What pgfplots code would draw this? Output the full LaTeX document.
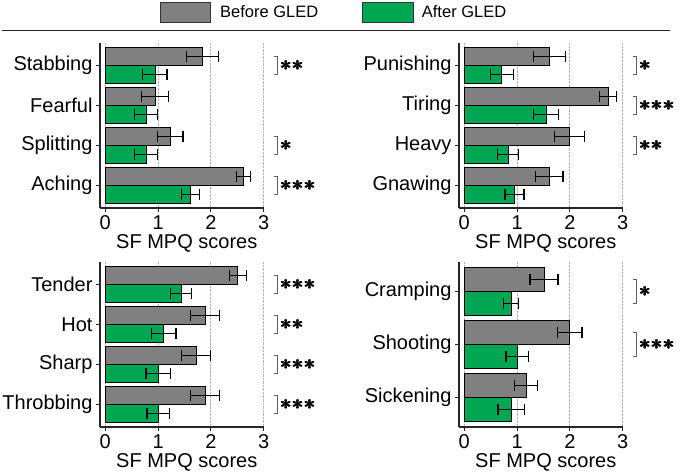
\documentclass[border=0pt]{standalone}
\usepackage{pgfplots}
\pgfplotsset{compat=1.18}
\usepackage{amsmath}
\usepackage{fontspec}
\setmainfont{Liberation Sans}
\definecolor{barGray}{RGB}{128,128,128}
\definecolor{barGreen}{RGB}{0,166,81}
\definecolor{brk}{RGB}{95,95,95}
\newcommand{\fs}[1]{\fontsize{#1}{#1}\selectfont}
\newcommand{\st}{{\pmb{\boldsymbol{\ast}}}}
\pgfplotsset{
 panel/.style={
  scale only axis, width=163.7bp, height=165bp,
  xmin=-0.1, xmax=3, xtick={0,1,2,3},
  axis x line*=bottom, axis y line*=left,
  axis line style={line width=1.2bp, black!85, -},
  tick align=outside, major tick length=4bp,
  tick style={line width=1bp, black!85},
  xbar, bar width=0.46,
  tick label style={font=\fs{20bp}},
  label style={font=\fs{20bp}},
  /pgf/number format/assume math mode=true,
  xlabel={SF MPQ scores},
  xlabel style={at={(axis description cs:0.53,0)}, anchor=center, yshift=-35bp},
  xmajorgrids, grid style={densely dotted, gray!60, line width=0.8bp},
  clip=false,
  error bars/error bar style={line width=1.2bp, black},
  error bars/error mark options={rotate=90, mark size=5.5bp, line width=1.2bp, black},
 },
 gbar/.style={fill=barGray, draw=black, line width=0.8bp,
   error bars/x dir=both, error bars/x explicit},
 ebar/.style={fill=barGreen, draw=black, line width=0.8bp,
   error bars/x dir=both, error bars/x explicit},
}
\newcommand{\sig}[4]{%
 \draw[brk, line width=1bp] (axis cs:3.20,#2) -- (axis cs:3.27,#2) -- (axis cs:3.27,#3) -- (axis cs:3.20,#3);
 \node[anchor=west, inner sep=0pt, font=\fs{20bp}] at (axis cs:3.31,#1) {$#4$};
}
\begin{document}
\begin{tikzpicture}
\useasboundingbox (0,0) rectangle (680bp,472bp);
% legend
\draw[fill=barGray, draw=black!80, line width=0.8bp] (160bp,449.3bp) rectangle (210.7bp,469.3bp);
\node[anchor=base west, inner sep=0pt, font=\fs{16.5bp}] at (220bp,454.7bp) {Before GLED};
\draw[fill=barGreen, draw=black!80, line width=0.8bp] (362.3bp,449.3bp) rectangle (413.3bp,469.3bp);
\node[anchor=base west, inner sep=0pt, font=\fs{16.5bp}] at (421.7bp,454.7bp) {After GLED};
\draw[black!85, line width=1.2bp] (2bp,441.3bp) -- (670bp,441.3bp);

% panel 1
\begin{axis}[panel, at={(100bp,264bp)}, anchor=south west,
  ymin=-0.5625, ymax=3.5625, ytick={0,1,2,3},
  yticklabels={Aching,Splitting,Fearful,Stabbing}]
\addplot[gbar, bar shift=0.23] coordinates {
 (1.84,3) +- (0.30,0)
 (0.94,2) +- (0.26,0)
 (1.23,1) +- (0.24,0)
 (2.62,0) +- (0.13,0)};
\addplot[ebar, bar shift=-0.23] coordinates {
 (0.94,3) +- (0.23,0)
 (0.77,2) +- (0.22,0)
 (0.77,1) +- (0.22,0)
 (1.61,0) +- (0.17,0)};
\sig{3}{3.23}{2.77}{\st\st}
\sig{1}{1.23}{0.77}{\st}
\sig{0}{0.23}{-0.23}{\st\st\st}
\end{axis}

% panel 2
\begin{axis}[panel, at={(459bp,264bp)}, anchor=south west,
  ymin=-0.5625, ymax=3.5625, ytick={0,1,2,3},
  yticklabels={Gnawing,Heavy,Tiring,Punishing}]
\addplot[gbar, bar shift=0.23] coordinates {
 (1.61,3) +- (0.30,0)
 (2.72,2) +- (0.16,0)
 (1.99,1) +- (0.28,0)
 (1.61,0) +- (0.26,0)};
\addplot[ebar, bar shift=-0.23] coordinates {
 (0.71,3) +- (0.22,0)
 (1.55,2) +- (0.235,0)
 (0.83,1) +- (0.20,0)
 (0.95,0) +- (0.18,0)};
\sig{3}{3.23}{2.77}{\st}
\sig{2}{2.23}{1.77}{\st\st\st}
\sig{1}{1.23}{0.77}{\st\st}
\end{axis}

% panel 3
\begin{axis}[panel, at={(100bp,45bp)}, anchor=south west,
  ymin=-0.5625, ymax=3.5625, ytick={0,1,2,3},
  yticklabels={Throbbing,Sharp,Hot,Tender}]
\addplot[gbar, bar shift=0.23] coordinates {
 (2.51,3) +- (0.165,0)
 (1.89,2) +- (0.27,0)
 (1.72,1) +- (0.275,0)
 (1.89,0) +- (0.27,0)};
\addplot[ebar, bar shift=-0.23] coordinates {
 (1.44,3) +- (0.20,0)
 (1.11,2) +- (0.23,0)
 (1.00,1) +- (0.23,0)
 (1.00,0) +- (0.21,0)};
\sig{3}{3.23}{2.77}{\st\st\st}
\sig{2}{2.23}{1.77}{\st\st}
\sig{1}{1.23}{0.77}{\st\st\st}
\sig{0}{0.23}{-0.23}{\st\st\st}
\end{axis}

% panel 4
\begin{axis}[panel, at={(459bp,45bp)}, anchor=south west,
  ymin=-0.557, ymax=2.557, ytick={0,1,2}, bar width=0.45,
  yticklabels={Sickening,Shooting,Cramping}]
\addplot[gbar, bar shift=0.225] coordinates {
 (1.51,2) +- (0.265,0)
 (2.00,1) +- (0.23,0)
 (1.17,0) +- (0.22,0)};
\addplot[ebar, bar shift=-0.225] coordinates {
 (0.89,2) +- (0.14,0)
 (1.00,1) +- (0.21,0)
 (0.89,0) +- (0.25,0)};
\sig{2}{2.225}{1.775}{\st}
\sig{1}{1.225}{0.775}{\st\st\st}
\end{axis}
\end{tikzpicture}
\end{document}
